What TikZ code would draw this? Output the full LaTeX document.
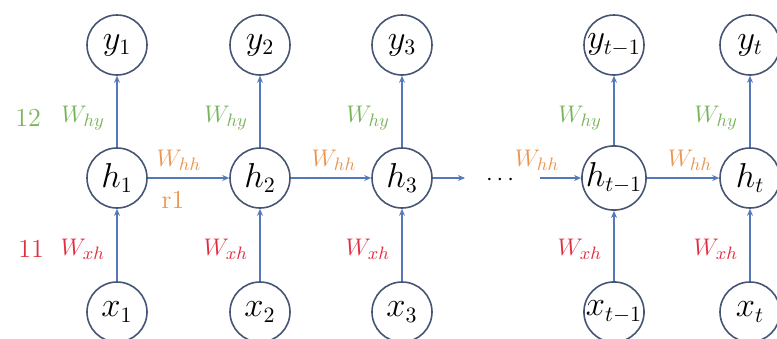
\documentclass[tikz,border=0pt]{standalone}
\usetikzlibrary{arrows.meta}
\definecolor{circ}{RGB}{70,85,115}
\definecolor{arr}{RGB}{85,120,185}
\definecolor{wgreen}{RGB}{120,180,90}
\definecolor{wred}{RGB}{225,45,65}
\definecolor{worange}{RGB}{235,150,80}
\begin{document}
\begin{tikzpicture}[x=0.5pt,y=-0.5pt,
  unit/.style={circle,draw=circ,line width=0.8pt,minimum size=30pt,inner sep=0pt,font=\fontsize{16}{18}\selectfont,fill=white},
  conn/.style={draw=arr,line width=0.7pt,-{Stealth[length=3.5pt,width=3pt]}},
  lbl/.style={font=\fontsize{13}{15}\selectfont},
  lg/.style={lbl,text=wgreen},
  lr/.style={lbl,text=wred},
  lo/.style={lbl,text=worange}]
\useasboundingbox (0,0) rectangle (777,338);
% columns
\foreach \n/\cx/\s in {1/117/1,2/260/2,3/402/3,4/614/{t-1},5/750/t}{
  \node[unit] (y\n) at (\cx,45) {$y_{\s}$};
  \node[unit] (h\n) at (\cx,178) {$h_{\s}$};
  \node[unit] (x\n) at (\cx,312) {$x_{\s}$};
  \draw[conn] (x\n) -- (h\n);
  \draw[conn] (h\n) -- (y\n);
  \node[lg,anchor=east] (why\n) at (\cx-5,118) {$W_{hy}$};
  \node[lr,anchor=east] (wxh\n) at (\cx-5,249) {$W_{xh}$};
}
\coordinate (e3) at (465,178);
\coordinate (s4) at (540,178);
\node[lbl] (dots) at (500,180) {$\cdots$};
\draw[conn] (h1) -- (h2);
\draw[conn] (h2) -- (h3);
\draw[conn] (h3) -- (e3);
\draw[conn] (s4) -- (h4);
\draw[conn] (h4) -- (h5);
\node[lo] (whh1) at (179,160) {$W_{hh}$};
\node[lo] (whh2) at (334,160) {$W_{hh}$};
\node[lo] (whh3) at (537,160) {$W_{hh}$};
\node[lo] (whh4) at (690,160) {$W_{hh}$};
\node[lbl,text=wgreen] (n12) at (28,118) {12};
\node[lbl,text=wred] (n11) at (31,249) {11};
\node[lbl,text=worange] (r1) at (173,200) {r1};
\end{tikzpicture}
\end{document}
